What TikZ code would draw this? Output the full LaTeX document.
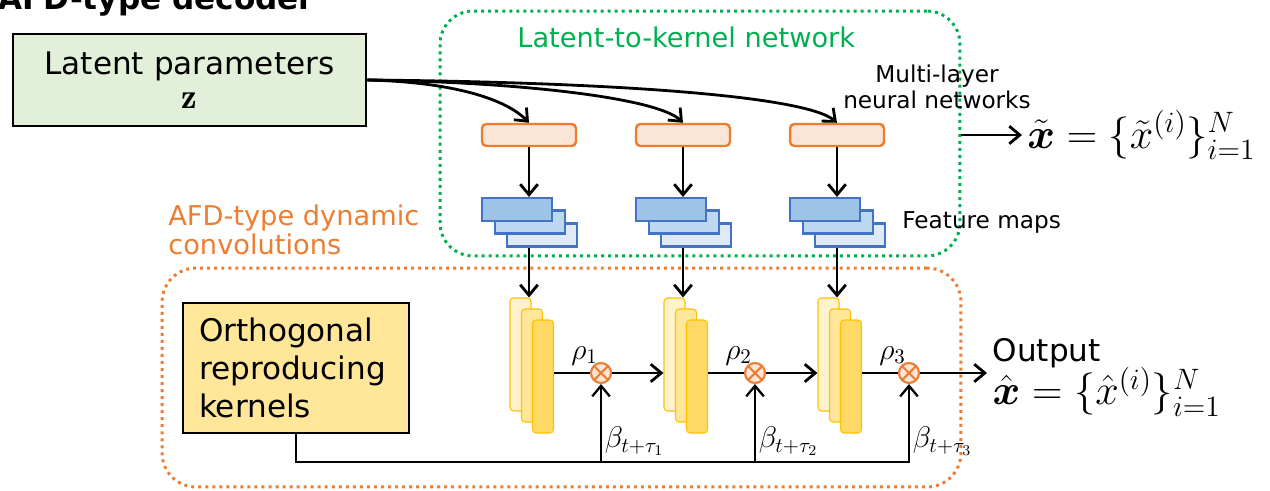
\RequirePackage{fix-cm}
\documentclass[tikz,border=0pt]{standalone}
\usepackage{amsmath}
\usepackage{fontspec}
\setsansfont{DejaVu Sans}
\renewcommand{\familydefault}{\sfdefault}
\usetikzlibrary{arrows.meta}

\definecolor{ltkgreen}{RGB}{0,176,80}
\definecolor{afdorange}{RGB}{237,125,49}
\definecolor{mlpfill}{RGB}{251,229,214}
\definecolor{latfill}{RGB}{226,240,217}
\definecolor{kerfill}{RGB}{255,230,153}
\definecolor{fmline}{RGB}{68,114,196}
\definecolor{fmA}{RGB}{157,195,230}
\definecolor{fmB}{RGB}{189,215,238}
\definecolor{fmC}{RGB}{222,235,247}
\definecolor{ybarA}{RGB}{255,242,204}
\definecolor{ybarB}{RGB}{255,230,153}
\definecolor{ybarC}{RGB}{255,217,102}
\definecolor{ybarline}{RGB}{255,192,0}

\begin{document}
\begin{tikzpicture}[x=0.02cm,y=0.02cm,
  arr/.style={line width=1.6pt,-{Straight Barb[length=6pt,width=10pt]}},
  grp/.style={line width=1.7pt,dash pattern=on 1.7pt off 2.3pt,inner sep=0},
  mlp/.style={draw=afdorange,fill=mlpfill,line width=1.4pt,rounded corners=2.5pt,
    minimum width=1.88cm,minimum height=0.44cm,inner sep=0},
  fmap/.style={draw=fmline,line width=1.2pt,minimum width=1.4cm,minimum height=0.46cm,inner sep=0},
  kbar/.style={draw=ybarline,line width=0.6pt,rounded corners=2pt,
    minimum width=0.42cm,minimum height=2.26cm,inner sep=0},
  mult/.style={circle,draw=afdorange,fill=mlpfill,line width=1.2pt,minimum size=0.4cm,inner sep=0,
    path picture={\draw[afdorange,line width=1.2pt]
      (path picture bounding box.north west)--(path picture bounding box.south east)
      (path picture bounding box.north east)--(path picture bounding box.south west);}}]
\useasboundingbox (0,0) rectangle (1270,-490);

% dotted groups
\node[grp,draw=ltkgreen,rounded corners=18.8pt,minimum width=10.4cm,minimum height=4.9cm] (ltk) at (700,-133.5) {};
\node[grp,draw=afdorange,rounded corners=19.3pt,minimum width=15.98cm,minimum height=4.38cm] (afd) at (561.5,-377.5) {};

\node[anchor=base west,inner sep=0,font=\fontsize{17.7}{21}\selectfont\bfseries] (title) at (-2,-10) {AFD-type decoder};
\node[anchor=base west,inner sep=0,text=ltkgreen,font=\fontsize{15.5}{18}\selectfont] (ltklab) at (517,-47) {Latent-to-kernel network};
\node[anchor=north west,inner sep=0,text=afdorange,align=left,font=\fontsize{15.5}{17}\selectfont] (afdlab) at (168,-204) {AFD-type dynamic\\convolutions};
\node[anchor=north,inner sep=0,align=center,font=\fontsize{13.2}{14.8}\selectfont] (mlplab) at (937,-65) {Multi-layer\\neural networks};
\node[anchor=base west,inner sep=0,font=\fontsize{13.2}{15}\selectfont] (fmlab) at (902,-228) {Feature maps};

% inputs
\node[draw,line width=1.5pt,fill=latfill,minimum width=7.06cm,minimum height=1.84cm,align=center,
  font=\fontsize{17.7}{19}\selectfont] (lat) at (189.5,-80) {Latent parameters\\{\fontsize{20}{19}\selectfont$\mathbf{z}$}};
\node[draw,line width=1.5pt,fill=kerfill,minimum height=2.6cm,text width=3.88cm,inner xsep=0.32cm,align=left,
  font=\fontsize{17.7}{21.6}\selectfont] (ker) at (296,-368) {Orthogonal\\reproducing\\kernels};

% outputs
\node[anchor=west,inner xsep=2.8pt,inner ysep=0,font=\fontsize{24}{26}\selectfont] (xt) at (1022,-135)
  {$\tilde{\boldsymbol{x}}=\{\tilde{x}^{(i)}\}_{i=1}^{N}$};
\node[anchor=west,inner xsep=3pt,inner ysep=0,align=left,font=\fontsize{17.7}{25}\selectfont] (out) at (987,-377)
  {Output\\{\fontsize{24}{25}\selectfont$\hat{\boldsymbol{x}}=\{\hat{x}^{(i)}\}_{i=1}^{N}$}};

\coordinate (bot) at (0,-462);

\foreach \i/\c in {1/529,2/683,3/837}{
  \node[mlp] (mlp\i) at (\c,-135) {};
  \node[fmap,fill=fmC] (fmc\i) at (\c+13,-235) {};
  \node[fmap,fill=fmB] (fmb\i) at (\c+1,-222) {};
  \node[fmap,fill=fmA] (fma\i) at (\c-12,-209.5) {};
  \node[kbar,fill=ybarA] (yba\i) at (\c-8.5,-354.5) {};
  \node[kbar,fill=ybarB] (ybb\i) at (\c+3,-365.5) {};
  \node[kbar,fill=ybarC] (ybc\i) at (\c+14,-376.5) {};
  \node[mult] (m\i) at (\c+72,-373) {};
  \draw[arr] (mlp\i) -- (mlp\i |- fma\i.north);
  \draw[arr] (mlp\i |- fmc\i.south) -- (mlp\i |- yba\i.north);
  \draw[line width=1.6pt] (ybc\i.east |- m\i) -- (m\i);
  \node[anchor=south east,inner sep=0,font=\fontsize{17}{19}\selectfont] (rho\i) at ([xshift=2.8pt]m\i.north west) {$\rho_\i$};
  \node[anchor=south west,inner xsep=2pt,inner ysep=3.5pt,font=\fontsize{17}{19}\selectfont] (beta\i) at (bot -| m\i) {$\beta_{t+\tau_\i}$};
}

% latent to kernel networks
\draw[arr] (lat.east) .. controls (450,-82) and (505,-98) .. (mlp1.north);
\draw[arr] (lat.east) .. controls (520,-82) and (658,-98) .. (mlp2.north);
\draw[arr] (lat.east) .. controls (600,-82) and (805,-95) .. (mlp3.north);
\draw[arr] (ltk.east |- xt.west) -- (xt.west);

% dynamic convolutions
\draw[arr] (m1) -- (m1 -| yba2.west);
\draw[arr] (m2) -- (m2 -| yba3.west);
\draw[arr] (m3) -- (m3 -| out.west);
\draw[arr,line width=1.3pt] (ker.south) |- (bot -| m3) -- (m3);
\draw[arr,line width=1.3pt] (bot -| m1) -- (m1);
\draw[arr,line width=1.3pt] (bot -| m2) -- (m2);
\end{tikzpicture}
\end{document}
